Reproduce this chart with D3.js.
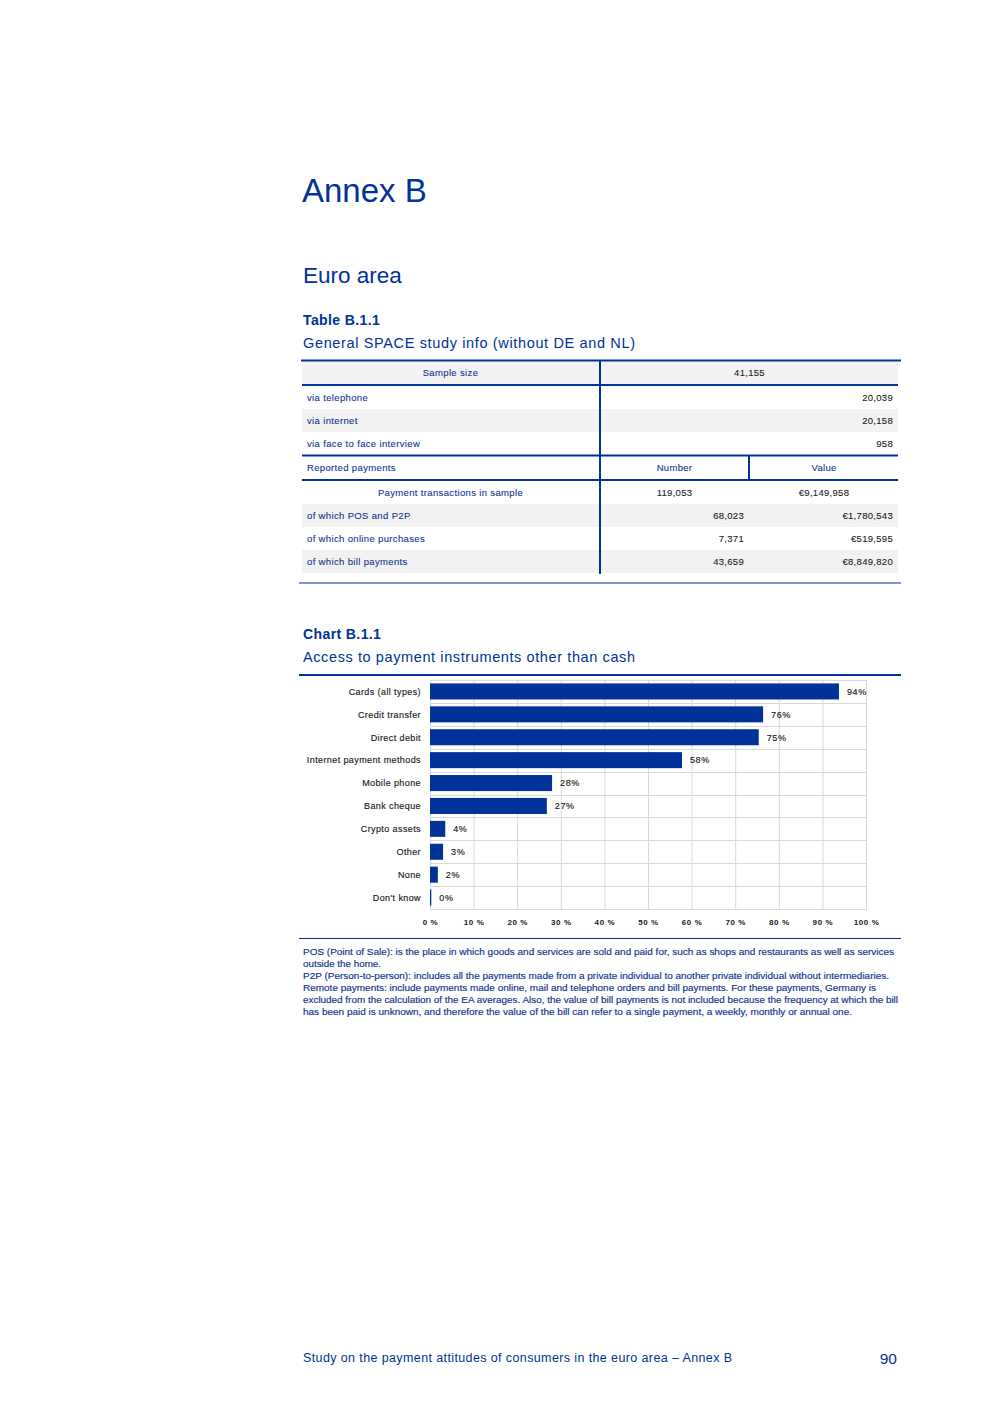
<!DOCTYPE html>
<html>
<head>
<meta charset="utf-8">
<script src="https://cdn.jsdelivr.net/npm/d3@7"></script>
<style>
  html, body { margin: 0; padding: 0; background: #fff; }
  svg { display: block; font-family: "Liberation Sans", Arial, sans-serif; }
</style>
</head>
<body>
<svg id="page" width="992" height="1403"></svg>
<script>
// ---------- Data ----------
const tableLabels = ["Sample size", "via telephone", "via internet", "via face to face interview",
  "Reported payments", "Payment transactions in sample", "of which POS and P2P",
  "of which online purchases", "of which bill payments"];
const tableNumbers = ["41,155", "20,039", "20,158", "958", "Number", "119,053", "68,023", "7,371", "43,659"];
const tableValues = ["", "", "", "", "Value", "€9,149,958", "€1,780,543", "€519,595", "€8,849,820"];

const categories = ["Cards (all types)", "Credit transfer", "Direct debit", "Internet payment methods",
  "Mobile phone", "Bank cheque", "Crypto assets", "Other", "None", "Don't know"];
const shares = [93.8, 76.4, 75.4, 57.8, 28, 26.8, 3.5, 3, 1.8, 0.3];
const xTicks = [0, 10, 20, 30, 40, 50, 60, 70, 80, 90, 100];

const notes = [
  "POS (Point of Sale): is the place in which goods and services are sold and paid for, such as shops and restaurants as well as services",
  "outside the home.",
  "P2P (Person-to-person): includes all the payments made from a private individual to another private individual without intermediaries.",
  "Remote payments: include payments made online, mail and telephone orders and bill payments. For these payments, Germany is",
  "excluded from the calculation of the EA averages. Also, the value of bill payments is not included because the frequency at which the bill",
  "has been paid is unknown, and therefore the value of the bill can refer to a single payment, a weekly, monthly or annual one."
];
const noteWidths = [591, 78, 586, 573, 595, 549];

// ---------- Style ----------
const BLUE = "#003299";
const TEXTBLUE = "#12358f";
const TEXT = "#1a1a1a";
const GRID = "#d9d9d9";
const GRAYBG = "#f2f2f2";

const svg = d3.select("#page");
svg.append("rect").attr("width", 992).attr("height", 1403).attr("fill", "#fff");

function heavy(sel, color, w) {
  return sel.attr("stroke", color).attr("stroke-width", w || 0.15).attr("paint-order", "stroke");
}

// ---------- Headings ----------
svg.append("text").attr("x", 302).attr("y", 202).attr("font-size", 33).attr("fill", BLUE).text("Annex B");
svg.append("text").attr("x", 303).attr("y", 283).attr("font-size", 22.5).attr("fill", BLUE).text("Euro area");

svg.append("text").attr("x", 303).attr("y", 325).attr("font-size", 14).attr("font-weight", "bold")
  .attr("fill", BLUE).attr("letter-spacing", 0.4).text("Table B.1.1");
svg.append("text").attr("x", 303).attr("y", 348).attr("font-size", 14.5).attr("fill", BLUE)
  .attr("textLength", 332).attr("lengthAdjust", "spacing").text("General SPACE study info (without DE and NL)");

// ---------- Table ----------
const rowTops = [361, 386, 409, 432, 456, 481, 504, 527, 550];
const rowBottoms = [385, 409, 432, 455, 480, 504, 527, 550, 573];
const grayRows = [0, 2, 6, 8];
const tbl = svg.append("g");
grayRows.forEach(i => {
  tbl.append("rect").attr("x", 302).attr("y", rowTops[i]).attr("width", 297)
    .attr("height", rowBottoms[i] - rowTops[i]).attr("fill", GRAYBG);
  tbl.append("rect").attr("x", 601).attr("y", rowTops[i]).attr("width", 297)
    .attr("height", rowBottoms[i] - rowTops[i]).attr("fill", GRAYBG);
});
tbl.append("line").attr("x1", 301).attr("x2", 901).attr("y1", 360.5).attr("y2", 360.5).attr("stroke", BLUE).attr("stroke-width", 2);
[385, 455.5, 480].forEach(y => tbl.append("line").attr("x1", 302).attr("x2", 898).attr("y1", y).attr("y2", y)
  .attr("stroke", BLUE).attr("stroke-width", 2));
tbl.append("line").attr("x1", 600).attr("x2", 600).attr("y1", 361).attr("y2", 574).attr("stroke", BLUE).attr("stroke-width", 2);
tbl.append("line").attr("x1", 749).attr("x2", 749).attr("y1", 456).attr("y2", 480).attr("stroke", BLUE).attr("stroke-width", 2);
tbl.append("line").attr("x1", 299).attr("x2", 901).attr("y1", 583).attr("y2", 583).attr("stroke", BLUE).attr("stroke-width", 1);

const fs = 9.5;
function cell(x, y, anchor, txt, color, ls) {
  heavy(tbl.append("text").attr("x", x).attr("y", y).attr("text-anchor", anchor)
    .attr("font-size", fs).attr("letter-spacing", ls).attr("fill", color).text(txt), color, 0.1);
}
tableLabels.forEach((lab, i) => {
  const cy = (rowTops[i] + rowBottoms[i]) / 2 + 3.4;
  const centered = (i === 0 || i === 5);
  cell(centered ? 450.5 : 307, cy, centered ? "middle" : "start", lab, TEXTBLUE, 0.35);
  const num = tableNumbers[i], val = tableValues[i];
  if (i === 0) {
    cell(749.5, cy, "middle", num, TEXT, 0.3);
  } else if (i < 4) {
    cell(893, cy, "end", num, TEXT, 0.3);
  } else if (i === 4) {
    cell(674.5, cy, "middle", num, TEXTBLUE, 0.3);
    cell(824, cy, "middle", val, TEXTBLUE, 0.3);
  } else if (i === 5) {
    cell(674.5, cy, "middle", num, TEXT, 0.3);
    cell(824, cy, "middle", val, TEXT, 0.3);
  } else {
    cell(744, cy, "end", num, TEXT, 0.3);
    cell(893, cy, "end", val, TEXT, 0.3);
  }
});

// ---------- Chart ----------
svg.append("text").attr("x", 303).attr("y", 639).attr("font-size", 14).attr("font-weight", "bold")
  .attr("fill", BLUE).attr("letter-spacing", 0.4).text("Chart B.1.1");
svg.append("text").attr("x", 303).attr("y", 662).attr("font-size", 14.5).attr("fill", BLUE)
  .attr("textLength", 332).attr("lengthAdjust", "spacing").text("Access to payment instruments other than cash");

svg.append("line").attr("x1", 299).attr("x2", 901).attr("y1", 675).attr("y2", 675).attr("stroke", BLUE).attr("stroke-width", 2);

const x = d3.scaleLinear().domain([0, 100]).range([430, 866]);
const y = d3.scaleBand().domain(categories).range([680, 909]).paddingInner(0.3).paddingOuter(0.15);
const top0 = 680, bot0 = 909;

const chart = svg.append("g");
chart.selectAll(".vg").data(xTicks).join("line")
  .attr("x1", d => x(d) + 0.5).attr("x2", d => x(d) + 0.5)
  .attr("y1", top0).attr("y2", bot0).attr("stroke", GRID).attr("stroke-width", 1);
const bounds = d3.range(categories.length + 1).map(i => top0 + i * (bot0 - top0) / categories.length);
chart.selectAll(".hg").data(bounds).join("line")
  .attr("x1", x(0)).attr("x2", x(100) + 1)
  .attr("y1", d => Math.round(d) + 0.5).attr("y2", d => Math.round(d) + 0.5)
  .attr("stroke", GRID).attr("stroke-width", 1);

chart.selectAll(".bar").data(categories).join("rect")
  .attr("x", x(0)).attr("y", d => y(d))
  .attr("width", (d, i) => Math.max(1, x(shares[i]) - x(0)))
  .attr("height", y.bandwidth()).attr("fill", BLUE);

heavy(chart.selectAll(".val").data(categories).join("text")
  .attr("x", (d, i) => x(shares[i]) + 8).attr("y", d => y(d) + y.bandwidth() / 2 + 3.3)
  .attr("font-size", 9).attr("letter-spacing", 0.6).attr("fill", TEXT)
  .text((d, i) => Math.round(shares[i]) + "%"), TEXT, 0.15);

heavy(chart.selectAll(".cat").data(categories).join("text")
  .attr("x", 421).attr("y", d => y(d) + y.bandwidth() / 2 + 3.3)
  .attr("text-anchor", "end").attr("font-size", 9).attr("letter-spacing", 0.4).attr("fill", TEXT)
  .text(d => d), TEXT, 0.15);

chart.selectAll(".xt").data(xTicks).join("text")
  .attr("x", d => x(d) + 0.5).attr("y", 925)
  .attr("text-anchor", "middle").attr("font-size", 8).attr("font-weight", "bold")
  .attr("letter-spacing", 0.6).attr("fill", TEXT)
  .text(d => d + " %");

svg.append("line").attr("x1", 299).attr("x2", 901).attr("y1", 938.5).attr("y2", 938.5).attr("stroke", BLUE).attr("stroke-width", 1);

heavy(svg.selectAll(".note").data(notes).join("text")
  .attr("x", 303).attr("y", (d, i) => 955 + i * 12)
  .attr("font-size", 8.2).attr("fill", TEXTBLUE)
  .attr("textLength", (d, i) => noteWidths[i]).attr("lengthAdjust", "spacingAndGlyphs")
  .text(d => d), TEXTBLUE, 0.15);

// ---------- Footer ----------
svg.append("text").attr("x", 303).attr("y", 1362).attr("font-size", 12.5).attr("fill", BLUE)
  .attr("textLength", 429).attr("lengthAdjust", "spacing")
  .text("Study on the payment attitudes of consumers in the euro area – Annex B");
svg.append("text").attr("x", 897).attr("y", 1364).attr("text-anchor", "end").attr("font-size", 15.5)
  .attr("fill", BLUE).text("90");
</script>
</body>
</html>
